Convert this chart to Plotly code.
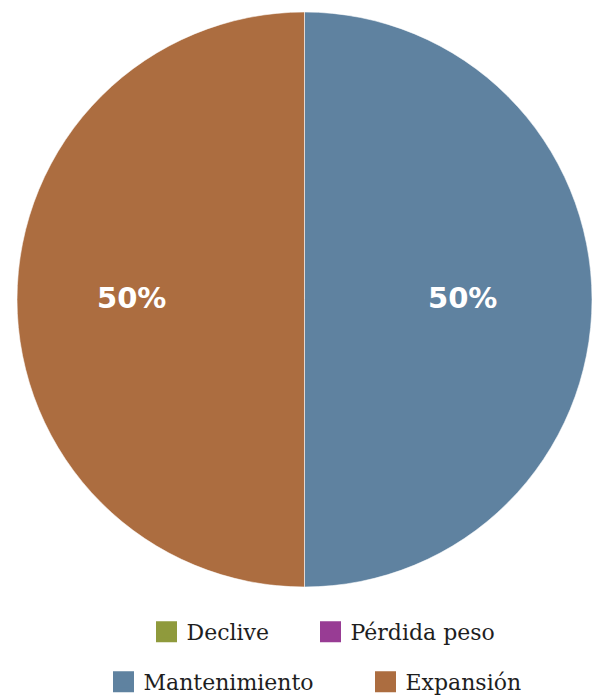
import math
import plotly.graph_objects as go

categories = ["Declive", "Pérdida peso", "Mantenimiento", "Expansión"]
values = [0, 0, 50, 50]
colors = ["#8f9a3c", "#983c94", "#5f82a0", "#ac6d40"]
legend_ids = ["legend", "legend2", "legend3", "legend4"]

W, H = 592, 695
# legend item anchor positions in pixels (left of item, vertical middle)
legend_pos = [(146.5, 632), (310.5, 632), (103.5, 682), (365.5, 682)]
LABEL_RADIUS = 0.574  # fraction of the pie radius where percent labels sit

fig = go.Figure()

fig.add_trace(go.Pie(
    labels=categories,
    values=values,
    sort=False,
    direction="clockwise",
    rotation=0,
    marker=dict(colors=colors, line=dict(color="rgba(255,255,255,0.55)", width=1)),
    textinfo="none",
    showlegend=False,
    hoverinfo="label+percent",
    domain=dict(x=[0, 1], y=[0, 1]),
))

for name, color, lg in zip(categories, colors, legend_ids):
    fig.add_trace(go.Scatter(
        x=[None], y=[None], mode="markers", name=name,
        marker=dict(symbol="square", size=16, color=color, line=dict(color=color, width=5)),
        legend=lg, showlegend=True,
    ))

# percent labels placed at the middle angle of each slice
total = sum(values)
annotations = []
cum = 0.0
for v in values:
    if v > 0:
        mid = (cum + v / 2) / total * 2 * math.pi
        annotations.append(dict(
            x=0.5 + 0.5 * LABEL_RADIUS * math.sin(mid),
            y=0.5 + 0.5 * LABEL_RADIUS * math.cos(mid),
            xref="paper", yref="paper", xanchor="center", yanchor="middle",
            showarrow=False,
            text=f"{v / total:.0%}", xshift=-7.5, yshift=2,
            font=dict(family="DejaVu Sans", size=29, color="white", weight="bold"),
        ))
    cum += v

legend_style = dict(
    orientation="h", xref="container", yref="container",
    xanchor="left", yanchor="middle",
    font=dict(family="DejaVu Serif", size=22, color="#1e1e1e"),
    bgcolor="rgba(0,0,0,0)", borderwidth=0,
)
layout_legends = {}
for lg, (px, py) in zip(legend_ids, legend_pos):
    layout_legends[lg] = dict(legend_style, x=px / W, y=1 - py / H)

fig.update_layout(
    width=W, height=H,
    margin=dict(l=17, r=0, t=12, b=108, autoexpand=False),
    paper_bgcolor="white", plot_bgcolor="white",
    xaxis=dict(visible=False), yaxis=dict(visible=False),
    annotations=annotations,
    **layout_legends,
)

fig.write_html(
    "out.html",
    config={"displayModeBar": False},
    post_script="document.body.style.margin='0';document.body.style.overflow='hidden';",
)
